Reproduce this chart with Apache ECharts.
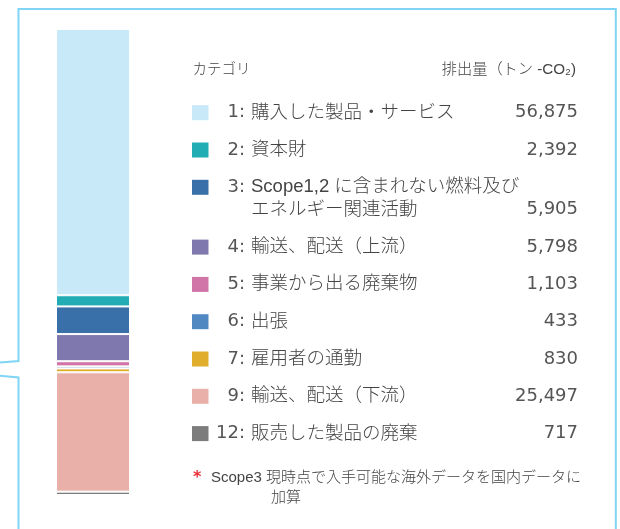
<!DOCTYPE html>
<html>
<head>
<meta charset="utf-8">
<script src="https://cdn.jsdelivr.net/npm/echarts@6/dist/echarts.min.js"></script>
<style>
  html, body { margin: 0; padding: 0; background: #fff; }
  #main { width: 620px; height: 529px; }
</style>
</head>
<body>
<div id="main"></div>
<script>
var chartDom = document.getElementById('main');
var myChart = echarts.init(chartDom);
var option;

// Scope3 categories, top of bar first
var catNos = ['1:', '2:', '3:', '4:', '5:', '6:', '7:', '9:', '12:'];
var catNames = [
  '購入した製品・サービス',
  '資本財',
  'Scope1,2 に含まれない燃料及び\nエネルギー関連活動',
  '輸送、配送（上流）',
  '事業から出る廃棄物',
  '出張',
  '雇用者の通勤',
  '輸送、配送（下流）',
  '販売した製品の廃棄'
];
var emissions = [56875, 2392, 5905, 5798, 1103, 433, 830, 25497, 717];
var colors = [
  '#c7e9f8', '#22adb5', '#3a70a9', '#7e78ae', '#d175a8',
  '#5088c2', '#e0ae2c', '#e8b0a8', '#7c7c7c'
];
var headCategory = 'カテゴリ';
var headValue = '排出量（トン -CO₂)';
var noteText = 'Scope3 現時点で入手可能な海外データを国内データに\n加算';

var total = emissions.reduce(function (a, b) { return a + b; }, 0);
var NUMFONT = '"DejaVu Sans", sans-serif';
var JPFONT = '"Liberation Sans", "Noto Sans CJK JP", sans-serif';
var TXT = '#444';
var NUMTXT = '#555';

var series = emissions.map(function (v, i) {
  return {
    name: catNos[i] + ' ' + catNames[i],
    type: 'bar',
    stack: 'scope3',
    barWidth: '100%',
    data: [v],
    itemStyle: { color: colors[i], borderColor: '#fff', borderWidth: 1 },
    emphasis: { disabled: true }
  };
});

// legend table (drawn with graphic elements)
var graphics = [];
// frame with callout notch
var frameStyle = { stroke: '#80d5f6', lineWidth: 2, fill: null };
graphics.push({
  type: 'polyline',
  shape: { points: [[0, 362.5], [18.5, 361], [18.5, 9], [615.8, 9], [615.8, 540]] },
  style: frameStyle,
  silent: true
});
graphics.push({
  type: 'polyline',
  shape: { points: [[0, 375.8], [18.5, 377.5], [18.5, 540]] },
  style: frameStyle,
  silent: true
});
graphics.push({
  type: 'text', x: 192.5, y: 70,
  style: { text: headCategory, font: '300 14.5px ' + JPFONT, fill: TXT, verticalAlign: 'middle' }
});
graphics.push({
  type: 'text', x: 576, y: 70,
  style: { text: headValue, font: '300 15.2px ' + JPFONT, fill: TXT, align: 'right', verticalAlign: 'middle' }
});

var rowStep = 37.3;
emissions.forEach(function (v, i) {
  var cy = 112.7 + rowStep * i + (i >= 3 ? 22.5 : 0);
  var twoLine = catNames[i].indexOf('\n') >= 0;
  graphics.push({
    type: 'rect',
    shape: { x: 192, y: cy - 7.5, width: 16.5, height: 15 },
    style: { fill: colors[i] },
    silent: true
  });
  graphics.push({
    type: 'text', x: 245, y: cy,
    style: { text: catNos[i], font: '18px ' + NUMFONT, fill: NUMTXT, align: 'right', verticalAlign: 'middle' }
  });
  graphics.push({
    type: 'text', x: 251, y: cy + (twoLine ? 11.5 : 0),
    style: {
      text: catNames[i], font: '300 18.5px ' + JPFONT, fill: TXT,
      align: 'left', verticalAlign: 'middle', lineHeight: 23
    }
  });
  graphics.push({
    type: 'text', x: 578, y: cy + (twoLine ? 22.5 : 0),
    style: {
      text: v.toLocaleString('en-US'), font: '18px ' + NUMFONT, fill: NUMTXT,
      align: 'right', verticalAlign: 'middle'
    }
  });
});

var noteLines = noteText.split('\n');
graphics.push({
  type: 'text', x: 193, y: 470,
  style: { text: '*', font: 'bold 16px ' + NUMFONT, fill: '#e8303a' }
});
graphics.push({
  type: 'text', x: 211, y: 478,
  style: { text: noteLines[0], font: '300 15px ' + JPFONT, fill: TXT, verticalAlign: 'middle' }
});
graphics.push({
  type: 'text', x: 271, y: 498,
  style: { text: noteLines[1], font: '300 15px ' + JPFONT, fill: TXT, verticalAlign: 'middle' }
});

option = {
  animation: false,
  grid: { left: 56, top: 29, width: 74, height: 466 },
  xAxis: { type: 'category', data: ['Scope3'], show: false },
  yAxis: { type: 'value', min: 0, max: total, inverse: true, show: false },
  series: series,
  graphic: graphics
};

option && myChart.setOption(option);
</script>
</body>
</html>
